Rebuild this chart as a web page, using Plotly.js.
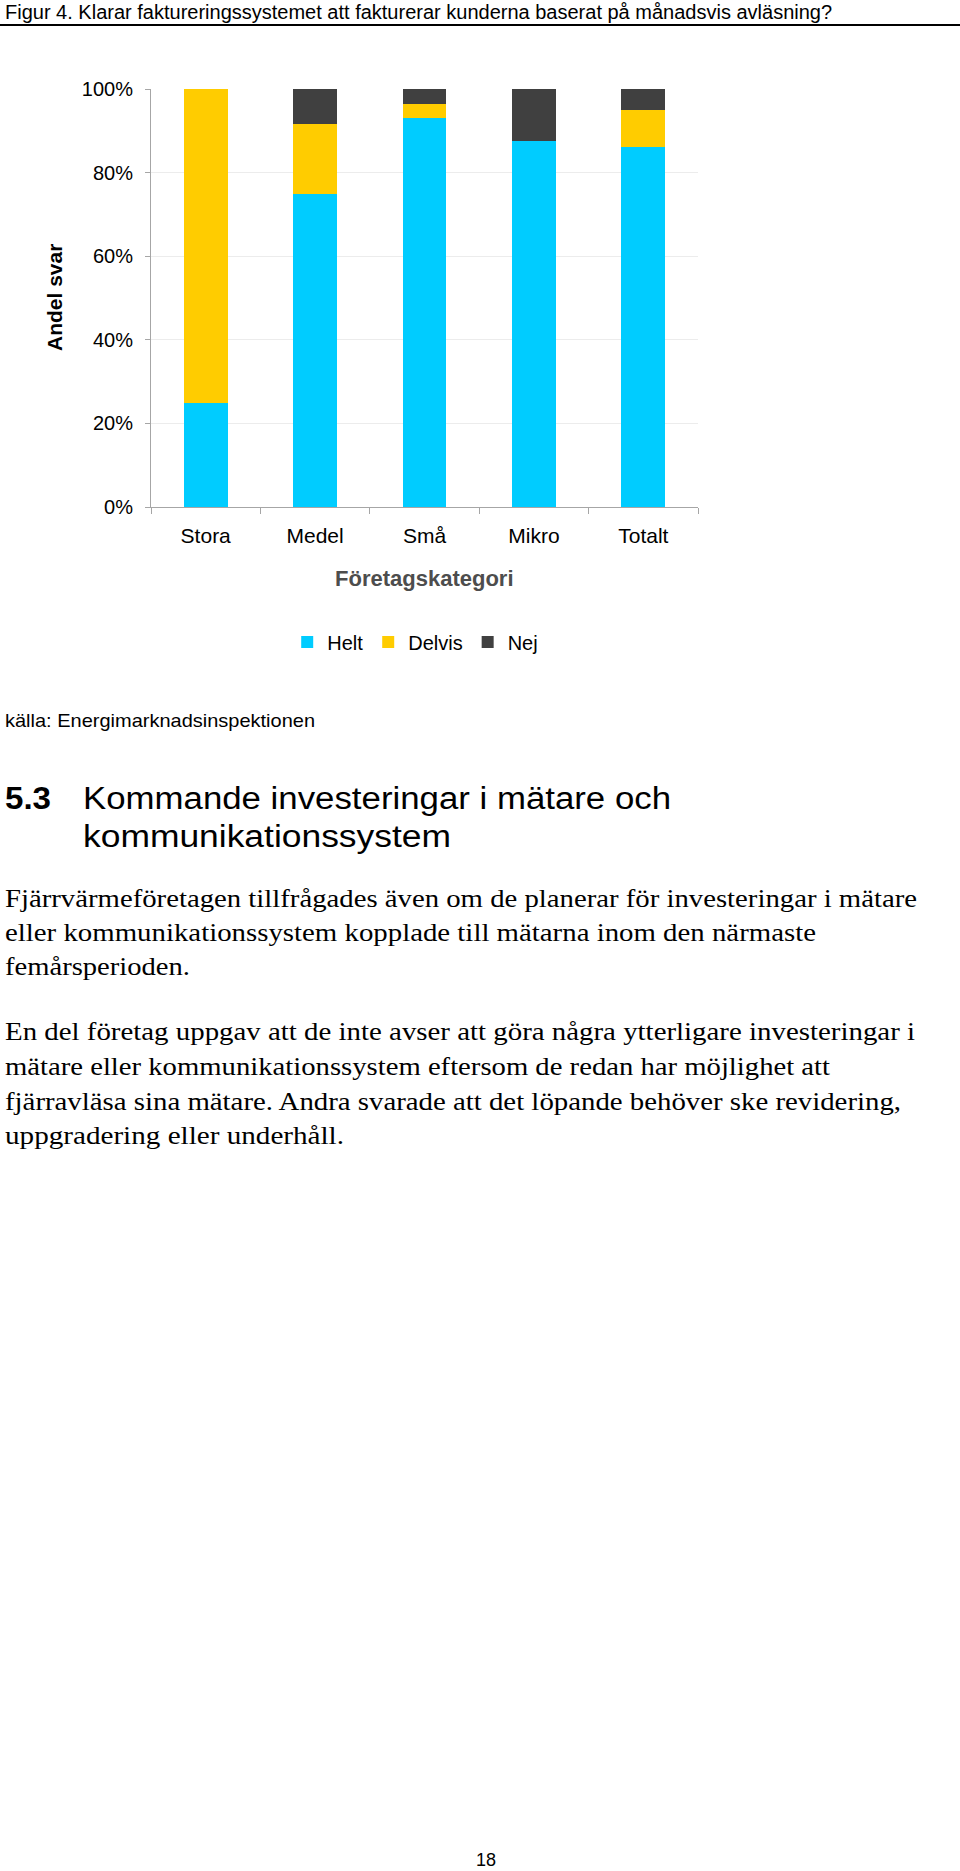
<!DOCTYPE html>
<html>
<head>
<meta charset="utf-8">
<script src="https://cdn.plot.ly/plotly-3.0.1.min.js"></script>
<style>
  html, body { margin: 0; padding: 0; background: #fff; }
  body { width: 960px; height: 1871px; position: relative; overflow: hidden; }
  #chart { position: absolute; left: 0; top: 0; width: 960px; height: 760px; }
  .t { position: absolute; white-space: nowrap; color: #000; transform-origin: 0 50%; }
  .sans { font-family: "Liberation Sans", Arial, sans-serif; }
  .serif { font-family: "Liberation Serif", "Times New Roman", serif; font-size: 26px; }
  .p1 { line-height: 34px; }
  .p2 { line-height: 34.7px; }
  .h { font-size: 31px; line-height: 38px; }
</style>
</head>
<body>
<div id="chart"></div>

<div class="t sans" data-w="310" style="left:5px; top:709px; font-size:19px; line-height:24px;">källa: Energimarknadsinspektionen</div>

<div class="t sans h" data-w="46" style="left:5px; top:780px;"><b>5.3</b></div>
<div class="t sans h" data-w="588" style="left:83px; top:780px;">Kommande investeringar i mätare och</div>
<div class="t sans h" data-w="368" style="left:83px; top:818px;">kommunikationssystem</div>

<div class="t serif p1" data-w="912" style="left:5px; top:882px;">Fjärrvärmeföretagen tillfrågades även om de planerar för investeringar i mätare</div>
<div class="t serif p1" data-w="811" style="left:5px; top:916px;">eller kommunikationssystem kopplade till mätarna inom den närmaste</div>
<div class="t serif p1" data-w="185" style="left:5px; top:950px;">femårsperioden.</div>

<div class="t serif p2" data-w="910" style="left:5px; top:1015px;">En del företag uppgav att de inte avser att göra några ytterligare investeringar i</div>
<div class="t serif p2" data-w="825" style="left:5px; top:1050px;">mätare eller kommunikationssystem eftersom de redan har möjlighet att</div>
<div class="t serif p2" data-w="896" style="left:5px; top:1085px;">fjärravläsa sina mätare. Andra svarade att det löpande behöver ske revidering,</div>
<div class="t serif p2" data-w="339" style="left:5px; top:1119px;">uppgradering eller underhåll.</div>

<div class="t sans" style="left:476px; top:1848px; font-size:18px; line-height:24px;">18</div>

<script>
const categories = ["Stora", "Medel", "Små", "Mikro", "Totalt"];
const helt   = [0.25, 0.75, 0.930, 0.875, 0.861];
const delvis = [0.75, 0.167, 0.033, 0.0, 0.088];
const nej    = [0.0, 0.083, 0.037, 0.125, 0.051];
const seriesNames = ["Helt", "Delvis", "Nej"];
const seriesColors = ["#00CCFF", "#FFCC00", "#404040"];
const yTickVals = [0, 0.2, 0.4, 0.6, 0.8, 1.0];
const yTickText = ["0%", "20%", "40%", "60%", "80%", "100%"];

function fitLines() {
  document.querySelectorAll("[data-w]").forEach(el => {
    el.style.transform = "none";
    const w = el.getBoundingClientRect().width;
    const target = parseFloat(el.dataset.w);
    if (w > 0) el.style.transform = "scaleX(" + (target / w) + ")";
  });
}
fitLines();
if (document.fonts && document.fonts.ready) document.fonts.ready.then(fitLines);

const W = 960, H = 760;
const L = 151, R = 698, T = 89, B = 507;
const px = X => (X - L) / (R - L);
const py = Y => (B - Y) / (B - T);

const font = "Liberation Sans, Arial, sans-serif";
const seriesValues = [helt, delvis, nej];
const traces = seriesValues.map((vals, i) => ({
  type: "bar",
  name: seriesNames[i],
  x: categories,
  y: vals,
  marker: { color: seriesColors[i], line: { width: 0 } },
  hoverinfo: "skip"
}));

const layout = {
  width: W, height: H,
  margin: { l: L, r: W - R, t: T, b: H - B, pad: 0 },
  paper_bgcolor: "#fff", plot_bgcolor: "#fff",
  barmode: "stack",
  bargap: 0.6,
  showlegend: true,
  title: {
    text: "Figur 4. Klarar faktureringssystemet att fakturerar kunderna baserat på månadsvis avläsning?",
    font: { family: font, size: 20, color: "#000" },
    xref: "container", x: 5 / W, xanchor: "left",
    yref: "container", y: 1 - 12 / H, yanchor: "middle",
    pad: { t: 0, b: 0, l: 0, r: 0 }
  },
  xaxis: {
    type: "category",
    showline: true, linecolor: "#a6a6a6", linewidth: 1,
    ticks: "outside", tickson: "boundaries", ticklen: 6, tickcolor: "#a6a6a6",
    ticklabelstandoff: 10,
    tickfont: { family: font, size: 21, color: "#000" },
    showgrid: false, zeroline: false, fixedrange: true
  },
  yaxis: {
    range: [0, 1],
    tickvals: yTickVals, ticktext: yTickText,
    showline: true, linecolor: "#a6a6a6", linewidth: 1,
    ticks: "outside", ticklen: 5, tickcolor: "#a6a6a6",
    ticklabelstandoff: 8,
    showgrid: true, gridcolor: "#ececec", gridwidth: 1,
    zeroline: false,
    tickfont: { family: font, size: 20, color: "#000" },
    fixedrange: true
  },
  legend: {
    orientation: "h",
    traceorder: "normal",
    x: 0.483, xanchor: "center", xref: "paper",
    y: py(642), yanchor: "middle", yref: "paper",
    font: { family: font, size: 20, color: "#000" },
    itemwidth: 30, tracegroupgap: 0,
    itemclick: false, itemdoubleclick: false
  },
  annotations: [
    {
      text: "<b>Företagskategori</b>",
      xref: "paper", yref: "paper", x: 0.5, y: py(578),
      xanchor: "center", yanchor: "middle", showarrow: false,
      font: { family: font, size: 22, color: "#4d4d4d" }
    },
    {
      text: "<b>Andel svar</b>",
      xref: "paper", yref: "paper", x: px(54), y: 0.5,
      xanchor: "center", yanchor: "middle", showarrow: false, textangle: -90,
      font: { family: font, size: 21, color: "#000" }
    }
  ],
  shapes: [
    {
      type: "line", xref: "paper", yref: "paper",
      x0: px(0), x1: px(960), y0: py(25), y1: py(25),
      line: { color: "#000", width: 2 }
    }
  ]
};

Plotly.newPlot("chart", traces, layout, { staticPlot: true, displayModeBar: false });
</script>
</body>
</html>
